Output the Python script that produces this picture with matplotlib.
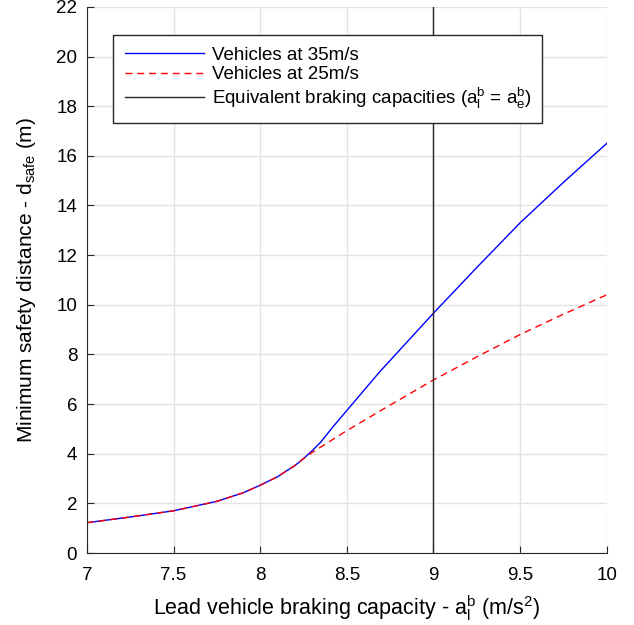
import matplotlib
matplotlib.use("Agg")
import matplotlib.pyplot as plt

plt.rcParams['font.family'] = ['Liberation Sans', 'DejaVu Sans']
plt.rcParams['mathtext.fontset'] = 'custom'
plt.rcParams['mathtext.rm'] = 'Liberation Sans'
plt.rcParams['mathtext.it'] = 'Liberation Sans'
plt.rcParams['mathtext.bf'] = 'Liberation Sans:bold'

# values
x_35 = [7.0, 7.25, 7.5, 7.75, 7.9, 8.0, 8.1, 8.15, 8.2, 8.25, 8.3, 8.35, 8.42, 8.5,
        8.69, 9.0, 9.25, 9.5, 9.75, 10.0]
d_35 = [1.22, 1.45, 1.70, 2.08, 2.42, 2.73, 3.07, 3.3, 3.52, 3.8, 4.12, 4.47, 5.08, 5.74,
        7.3, 9.66, 11.5, 13.3, 14.93, 16.5]

x_25 = [7.0, 7.25, 7.5, 7.75, 7.9, 8.0, 8.1, 8.15, 8.2, 8.25, 8.3, 8.35, 8.5,
        8.75, 9.0, 9.25, 9.5, 9.75, 10.0]
d_25 = [1.22, 1.45, 1.70, 2.08, 2.42, 2.73, 3.07, 3.3, 3.52, 3.8, 4.05, 4.27, 4.93,
        5.96, 6.97, 7.9, 8.8, 9.62, 10.4]

equiv_x = 9.0

fig = plt.figure(figsize=(6.34, 6.25), dpi=100)
ax = fig.add_axes([0.137, 0.1152, 0.82, 0.8738])

ax.plot(x_35, d_35, color='blue', linewidth=1, label='Vehicles at 35m/s')
ax.plot(x_25, d_25, color='red', linewidth=1, linestyle=(0, (5, 3.5)), label='Vehicles at 25m/s')
ax.axvline(equiv_x, color='#262626', linewidth=1,
           label=r'Equivalent braking capacities (a$_l^b$ = a$_e^b$)')

ax.set_xlim(7, 10)
ax.set_ylim(0, 22)
ax.set_xticks([7, 7.5, 8, 8.5, 9, 9.5, 10])
ax.set_xticklabels(['7', '7.5', '8', '8.5', '9', '9.5', '10'])
ax.set_yticks(range(0, 23, 2))

ax.grid(True, color='#e3e3e3', linewidth=1)
ax.set_axisbelow(True)
for side in ['top', 'right']:
    ax.spines[side].set_visible(False)
for side in ['left', 'bottom']:
    ax.spines[side].set_color('#262626')
ax.tick_params(direction='in', length=5, labelsize=13.5, colors='#262626',
               labelcolor='black')
ax.tick_params(axis='x', pad=10)
ax.tick_params(axis='y', pad=7)

ax.set_xlabel(r'Lead vehicle braking capacity - a$_l^b$ (m/s$^2$)', fontsize=15.5, labelpad=7)
ax.set_ylabel(r'Minimum safety distance - d$_{safe}$ (m)', fontsize=15, labelpad=13)

leg = ax.legend(loc='upper left', bbox_to_anchor=(0.05, 0.786, 0.825, 0.163),
                mode='expand', fontsize=13.5, fancybox=False, framealpha=1,
                edgecolor='#262626', handlelength=4.2, handletextpad=0.45,
                borderpad=0.65, borderaxespad=0, labelspacing=0.12)
leg.get_frame().set_linewidth(1)

fig.savefig('out.png', dpi=100)
